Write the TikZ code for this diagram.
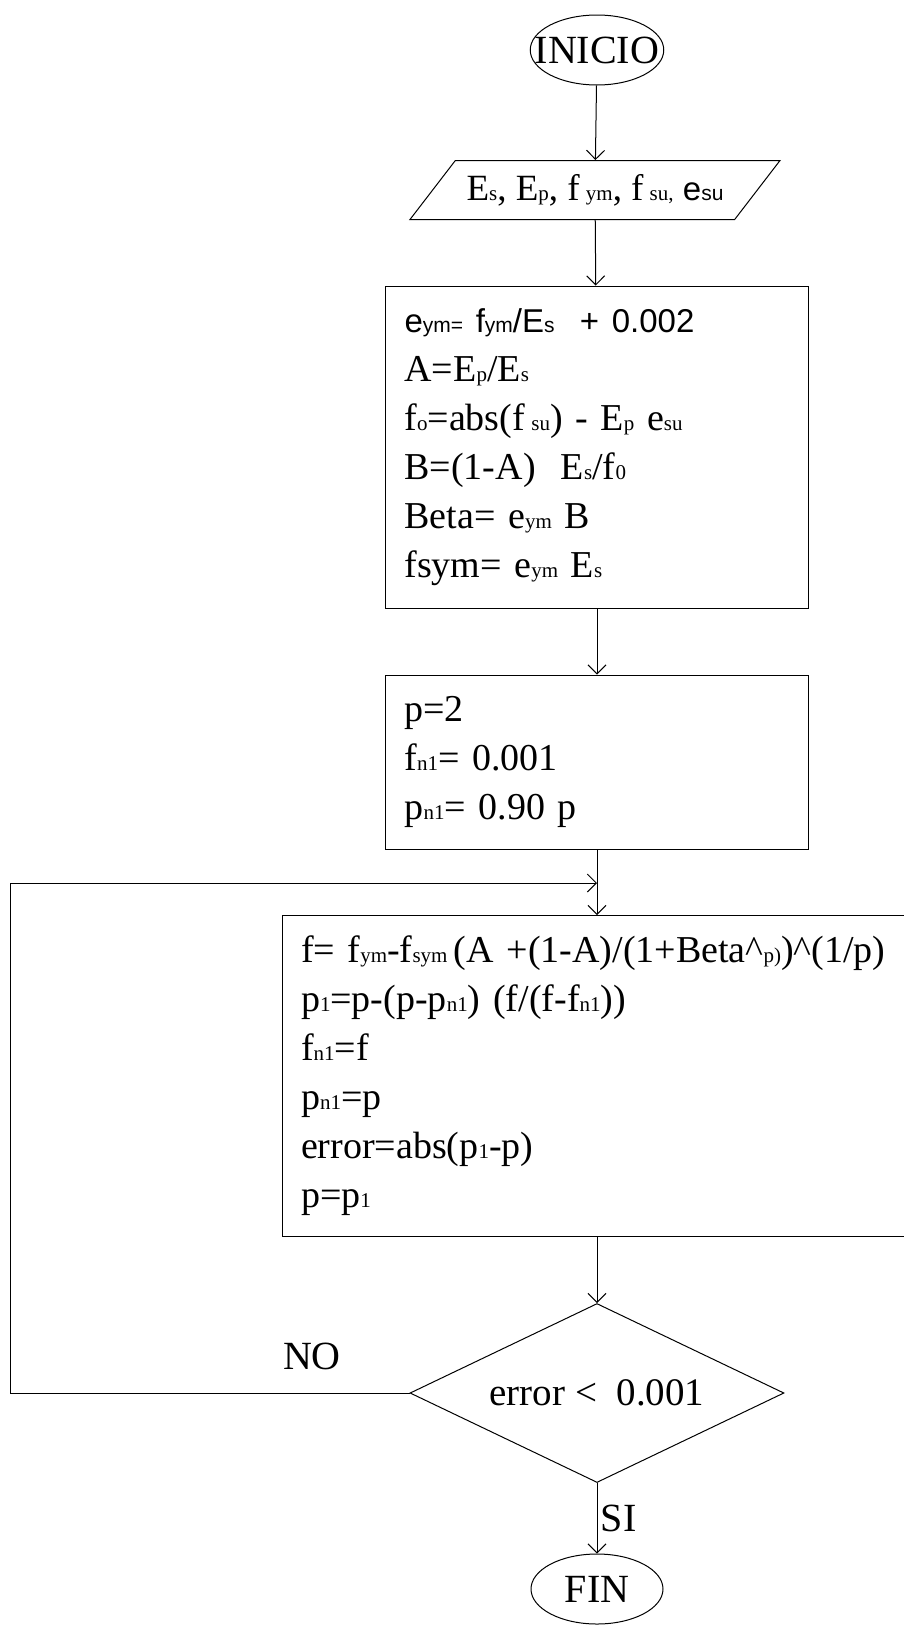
\documentclass[tikz,border=0pt]{standalone}
\usepackage{fontspec}
\setmainfont{Liberation Serif}
\newfontfamily\arialf{Liberation Sans}
\usepackage{tikz}
\usetikzlibrary{shapes.geometric, arrows.meta}
% small index letters, written on the baseline
\newcommand{\smx}[1]{{\fontsize{21}{21}\selectfont #1}}
\tikzstyle{term} = [ellipse, draw, line width=1pt, minimum width=132pt, minimum height=70pt, inner sep=-15pt, font=\fontsize{40}{40}\selectfont]
\tikzstyle{io} = [trapezium, trapezium left angle=35, trapezium right angle=145, trapezium stretches body, draw, line width=1pt, minimum width=370pt, minimum height=59pt, inner sep=0pt, font=\fontsize{37}{37}\selectfont]
\tikzstyle{process} = [rectangle, draw, line width=1pt, align=left, inner xsep=19pt, inner ysep=0pt, font=\fontsize{38}{49}\selectfont]
\tikzstyle{decision} = [diamond, draw, line width=1pt, shape aspect=2, minimum width=374pt, minimum height=179pt, inner sep=0pt, font=\fontsize{39}{39}\selectfont]
\tikzstyle{arrow} = [line width=1pt, -{Straight Barb[length=9pt,width=18pt]}]

\begin{document}
\begin{tikzpicture}[x=1pt, y=-1pt]
    \useasboundingbox (0,0) rectangle (904,1625);
    \node[term] (inicio) at (597,50) {INICIO};
    \node[io] (datos) at (595,190) {E\smx{s}, E\smx{p}, f\,\smx{ym}, f\,\smx{su,} {\arialf\fontsize{33}{33}\selectfont e\smx{su}}};
    \node[process, text width=385pt, minimum width=423pt, minimum height=322pt] (calc1) at (597,447) {{\arialf\fontsize{33}{33}\selectfont e\smx{ym=} f\smx{ym}/E\smx{s}\ \ + 0.002}\\
        A=E\smx{p}/E\smx{s}\\
        f\smx{o}=abs(f\,\smx{su}) - E\smx{p} e\smx{su}\\
        B=(1-A)\ \ E\smx{s}/f\smx{0}\\
        Beta= e\smx{ym} B\\
        fsym= e\smx{ym} E\smx{s}};
    \node[process, text width=385pt, minimum width=423pt, minimum height=174pt] (calc2) at (597,762) {p=2\\
        f\smx{n1}= 0.001\\
        p\smx{n1}= 0.90 p};
    \node[process, text width=600pt, minimum width=638pt, minimum height=321pt] (calc3) at (601,1076) {f= f\smx{ym}-f\smx{sym}\,(A +(1-A)/(1+Beta\textasciicircum\smx{p)})\textasciicircum(1/p)\\
        p\smx{1}=p-(p-p\smx{n1}) (f/(f-f\smx{n1}))\\
        f\smx{n1}=f\\
        p\smx{n1}=p\\
        error=abs(p\smx{1}-p)\\
        p=p\smx{1}};
    \node[decision] (test) at (597,1393) {error <\ \ 0.001};
    \node[term] (fin) at (597,1589) {FIN};
    \node[font=\fontsize{40}{40}\selectfont] (no) at (312,1356) {NO};
    \coordinate (loopleft) at (10,883);
    \coordinate (join) at (597,883);

    \draw[arrow] (inicio) -- (datos);
    \draw[arrow] (datos) -- (calc1);
    \draw[arrow] (calc1) -- (calc2);
    \draw[arrow] (calc2) -- (inicio |- calc3.north);
    \draw[arrow] (inicio |- calc3.south) -- (test);
    \draw[arrow] (test) -- node[right, font=\fontsize{40}{40}\selectfont] (si) {SI} (fin);
    \draw[arrow] (test.west) -| (loopleft) -- (join);
\end{tikzpicture}
\end{document}
